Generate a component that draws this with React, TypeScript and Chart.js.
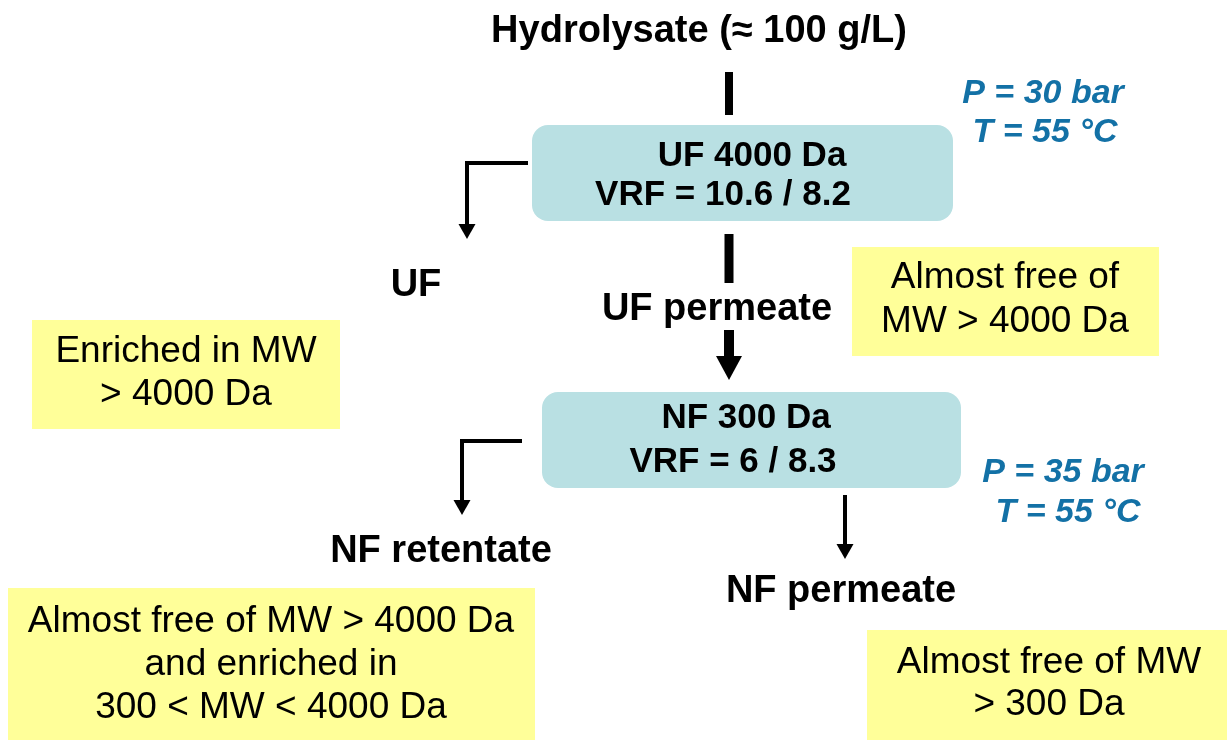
import React, { useEffect, useRef } from "react";
import { Chart, registerables } from "chart.js";

Chart.register(...registerables);

// ---------- content ----------
const titleText = "Hydrolysate (≈ 100 g/L)";
const unitLabels = [
  ["UF 4000 Da", "VRF = 10.6 / 8.2"],
  ["NF 300 Da", "VRF = 6 / 8.3"],
];
const streamLabels = ["UF", "UF permeate", "NF retentate", "NF permeate"];
const conditionLabels = [
  ["P = 30 bar", "T = 55 °C"],
  ["P = 35 bar", "T = 55 °C"],
];
const noteLabels = [
  ["Enriched in MW", "> 4000 Da"],
  ["Almost free of", "MW > 4000 Da"],
  ["Almost free of MW > 4000 Da", "and enriched in", "300 < MW < 4000 Da"],
  ["Almost free of MW", "> 300 Da"],
];

// ---------- layout (diagram units, mapped through the chart's scales) ----------
const W = 1227;
const H = 740;
const titleAnchor = [699, 42];
const unitBoxes = [
  [532, 125, 953, 221],
  [542, 392, 961, 488],
];
const unitLineAnchors = [
  [[752, 166], [723, 205]],
  [[746, 428], [733, 472]],
];
const streamAnchors = [[416, 296], [717, 320], [441, 562], [841, 602]];
const conditionAnchors = [
  [[1043, 103], [1045, 142]],
  [[1063, 482], [1068, 522]],
];
const noteBoxes = [
  [32, 320, 340, 429],
  [852, 247, 1159, 356],
  [8, 588, 535, 740],
  [867, 630, 1227, 740],
];
const noteAnchors = [
  [[186, 362], [186, 405]],
  [[1005, 288], [1005, 332]],
  [[271, 632], [271, 675], [271, 718]],
  [[1049, 673], [1049, 715]],
];
// connectors: polyline points, line width
const connectorPaths = [
  [[729, 72], [729, 115]],
  [[528, 163], [467, 163], [467, 226]],
  [[729, 234], [729, 283]],
  [[729, 330], [729, 358]],
  [[522, 441], [462, 441], [462, 502]],
  [[845, 495], [845, 546]],
];
const connectorWidths = [8, 4, 9, 10, 4, 4];
// arrowheads: x, base y, tip y, width
const arrowHeads = [
  [467, 224, 239, 17],
  [729, 356, 380, 26],
  [462, 500, 515, 17],
  [845, 544, 559, 17],
];

const FONT = "'Liberation Sans', Arial, Helvetica, sans-serif";
const CYAN = "#b9e0e3";
const YELLOW = "#ffff99";
const BLUE = "#1371a6";

const diagramPlugin = {
  id: "diagram",
  beforeDatasetsDraw(chart: any) {
    const { ctx, scales } = chart;
    const px = (v: number) => scales.x.getPixelForValue(v);
    const py = (v: number) => scales.y.getPixelForValue(v);
    ctx.save();
    // note boxes
    ctx.fillStyle = YELLOW;
    noteBoxes.forEach(([x0, y0, x1, y1]) => {
      ctx.fillRect(px(x0), py(y0), px(x1) - px(x0), py(y1) - py(y0));
    });
    // unit boxes
    ctx.fillStyle = CYAN;
    unitBoxes.forEach(([x0, y0, x1, y1]) => {
      ctx.beginPath();
      (ctx as any).roundRect(px(x0), py(y0), px(x1) - px(x0), py(y1) - py(y0), 16);
      ctx.fill();
    });
    ctx.restore();
  },
  afterDatasetsDraw(chart: any) {
    const { ctx, scales } = chart;
    const px = (v: number) => scales.x.getPixelForValue(v);
    const py = (v: number) => scales.y.getPixelForValue(v);
    ctx.save();
    // arrowheads
    ctx.fillStyle = "#000";
    arrowHeads.forEach(([x, yb, yt, w]) => {
      ctx.beginPath();
      ctx.moveTo(px(x) - w / 2, py(yb));
      ctx.lineTo(px(x) + w / 2, py(yb));
      ctx.lineTo(px(x), py(yt));
      ctx.closePath();
      ctx.fill();
    });
    ctx.textAlign = "center";
    ctx.textBaseline = "alphabetic";
    const put = (t: string, a: number[]) => ctx.fillText(t, px(a[0]), py(a[1]));
    // title
    ctx.fillStyle = "#000";
    ctx.font = `bold 38px ${FONT}`;
    put(titleText, titleAnchor);
    streamLabels.forEach((t, i) => put(t, streamAnchors[i]));
    ctx.font = `bold 35px ${FONT}`;
    unitLabels.forEach((lines, i) => lines.forEach((t, j) => put(t, unitLineAnchors[i][j])));
    ctx.font = `37px ${FONT}`;
    noteLabels.forEach((lines, i) => lines.forEach((t, j) => put(t, noteAnchors[i][j])));
    ctx.fillStyle = BLUE;
    ctx.font = `italic bold 34px ${FONT}`;
    conditionLabels.forEach((lines, i) => lines.forEach((t, j) => put(t, conditionAnchors[i][j])));
    ctx.restore();
  },
};

export default function App() {
  const ref = useRef<HTMLCanvasElement | null>(null);
  useEffect(() => {
    if (!ref.current) return;
    const chart = new Chart(ref.current, {
      type: "scatter",
      data: {
        datasets: connectorPaths.map((path, i) => ({
          label: "c" + i,
          data: path.map(([x, y]) => ({ x, y })),
          showLine: true,
          borderColor: "#000",
          backgroundColor: "#000",
          borderWidth: connectorWidths[i],
          borderCapStyle: "butt" as const,
          borderJoinStyle: "miter" as const,
          pointRadius: 0,
          pointHoverRadius: 0,
          tension: 0,
        })),
      },
      options: {
        responsive: false,
        animation: false,
        devicePixelRatio: 1,
        layout: { padding: 0 },
        events: [],
        plugins: {
          legend: { display: false },
          tooltip: { enabled: false },
          title: { display: false },
        },
        scales: {
          x: { type: "linear", min: 0, max: W, display: false },
          y: { type: "linear", min: 0, max: H, reverse: true, display: false },
        },
      },
      plugins: [diagramPlugin],
    });
    return () => chart.destroy();
  }, []);
  return (
    <div style={{ position: "fixed", left: 0, top: 0, width: W, height: H, background: "#fff" }}>
      <canvas ref={ref} width={W} height={H} style={{ width: W, height: H, display: "block" }} />
    </div>
  );
}
